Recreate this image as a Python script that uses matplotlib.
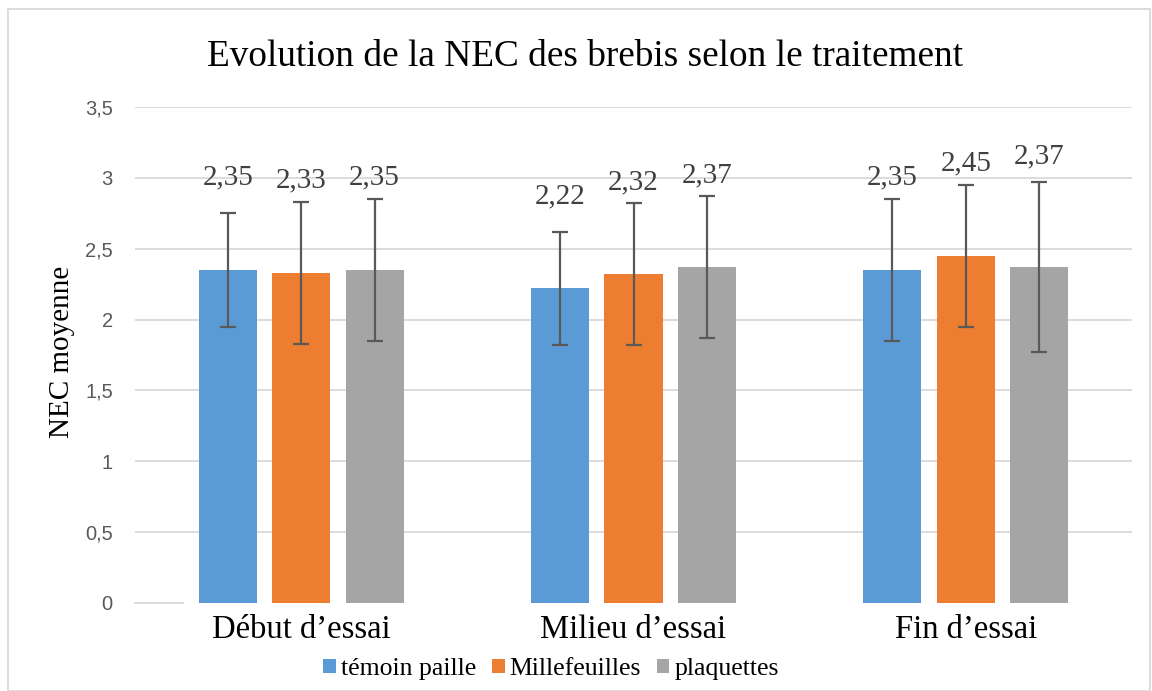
import matplotlib.pyplot as plt
import numpy as np
from matplotlib.patches import Rectangle

# Donnees
categories = ["Début d’essai", "Milieu d’essai", "Fin d’essai"]
series = ["témoin paille", "Millefeuilles", "plaquettes"]
temoin = [2.35, 2.22, 2.35]
millefeuilles = [2.33, 2.32, 2.45]
plaquettes = [2.35, 2.37, 2.37]
err_temoin = [0.4, 0.4, 0.5]
err_mille = [0.5, 0.5, 0.5]
err_plaq = [0.5, 0.5, 0.6]

couleurs = ["#5B9BD5", "#ED7D31", "#A5A5A5"]
serif = "Liberation Serif"

fig = plt.figure(figsize=(11.52, 6.91), dpi=100)
ax = fig.add_axes([135 / 1152, 1 - 603 / 691, 997 / 1152, 496 / 691])

x = np.arange(len(categories))
largeur = 0.175
pas = 0.221
valeurs = [temoin, millefeuilles, plaquettes]
erreurs = [err_temoin, err_mille, err_plaq]

for i, (vals, errs) in enumerate(zip(valeurs, erreurs)):
    pos = x + (i - 1) * pas
    ax.bar(pos, vals, largeur, color=couleurs[i], label=series[i], zorder=2)
    ax.errorbar(pos, vals, yerr=errs, fmt="none", ecolor="#595959",
                elinewidth=1.6, capsize=6, capthick=1.6, zorder=3)
    for p, v, e in zip(pos, vals, errs):
        # etiquette au-dessus de la barre, remontee si elle touche la barre d'erreur
        y_lab = v + 0.65
        if y_lab - (v + e) < 0.1:
            y_lab = v + e + 0.18
        ax.text(p, y_lab, f"{v:.2f}".replace(".", ","), ha="center", va="center",
                fontsize=21, family=serif, color="#404040")

ax.set_xlim(-0.5, 2.5)
ax.set_ylim(0, 3.5)
ax.set_yticks(np.arange(0, 3.51, 0.5))
ax.set_yticklabels([f"{t:g}".replace(".", ",") for t in np.arange(0, 3.51, 0.5)],
                   fontsize=14.5, color="#595959", family="Liberation Sans")
ax.set_xticks(x)
ax.set_xticklabels(categories, fontsize=23.5, family=serif, color="black")
ax.tick_params(axis="both", length=0)
ax.tick_params(axis="y", pad=16)
ax.tick_params(axis="x", pad=8)
for t in np.arange(0.5, 3.51, 0.5):
    ax.axhline(t, color="#D9D9D9", lw=1.3, zorder=1)
ax.plot([-0.5, -0.355], [0, 0], color="#D9D9D9", lw=1.3, zorder=1, clip_on=False)
for s in ax.spines.values():
    s.set_visible(False)

fig.text(62 / 1152, 1 - 352 / 691, "NEC moyenne", rotation=90, fontsize=21,
         family=serif, ha="center", va="center")
fig.text(585 / 1152, 1 - 57 / 691, "Evolution de la NEC des brebis selon le traitement",
         fontsize=26.8, family=serif, ha="center", va="center")

leg = fig.legend(loc="center", bbox_to_anchor=(551 / 1152, 1 - 669 / 691), ncol=3,
                 frameon=False, prop={"family": serif, "size": 18.5},
                 handlelength=0.5, handleheight=0.5, handletextpad=0.2,
                 columnspacing=0.6)

fig.patches.append(Rectangle((8 / 1152, 0), 1 - 10 / 1152, 1 - 9 / 691,
                             transform=fig.transFigure, fill=False,
                             edgecolor="#D9D9D9", lw=1.3))

fig.savefig("out.png", dpi=100)
